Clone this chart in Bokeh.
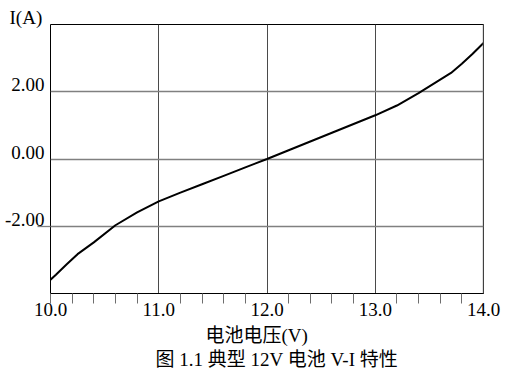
from bokeh.plotting import figure
from bokeh.models import (FixedTicker, PrintfTickFormatter, Span, Title, Range1d,
                          LinearAxis, CustomJSTickFormatter)
from bokeh.embed import file_html
from bokeh.resources import INLINE

# ---- data ----
voltage = [10.0, 10.05, 10.15, 10.25, 10.4, 10.6, 10.8, 11.0, 11.2, 11.4, 11.6,
           11.8, 12.0, 12.2, 12.4, 12.6, 12.8, 13.0, 13.2, 13.4, 13.6, 13.7,
           13.8, 13.9, 14.0]
current = [-3.59, -3.44, -3.13, -2.83, -2.48, -1.97, -1.59, -1.26, -1.0, -0.75,
           -0.5, -0.25, 0.0, 0.26, 0.52, 0.78, 1.04, 1.30, 1.59, 1.96, 2.36,
           2.56, 2.83, 3.13, 3.45]

x_range = (10.0, 14.0)
y_range = (-4.0, 4.0)
x_ticks = [10.0, 11.0, 12.0, 13.0, 14.0]
x_minor_ticks = [10.0, 10.2, 10.4, 10.6, 10.8, 11.2, 11.4, 11.6, 11.8,
                 12.2, 12.4, 12.6, 12.8, 13.2, 13.4, 13.6, 13.8]
x_grid = [11.0, 12.0, 13.0]
y_ticks = [-2.0, 0.0, 2.0]
y_outer_ticks = [-2.0]
x_axis_label = "电池电压(V)"
y_axis_label = "I(A)"
caption = "图 1.1 典型 12V 电池 V-I 特性"

LATIN = "Liberation Serif"
MIXED = "'Liberation Serif', 'Noto Sans CJK SC'"
FS = "19px"

W, H = 512, 372
BL, BR, BT, BB = 50, 29, 24, 79
p = figure(width=W, height=H,
           x_range=Range1d(*x_range), y_range=Range1d(*y_range),
           output_backend="svg", toolbar_location=None, y_axis_location=None,
           min_border_left=BL, min_border_right=BR,
           min_border_top=BT, min_border_bottom=BB)
p.background_fill_color = "white"
p.border_fill_color = "white"
p.outline_line_color = "black"
p.outline_line_width = 1

# x axis
xa = p.xaxis[0]
xa.ticker = FixedTicker(ticks=x_ticks, minor_ticks=x_minor_ticks)
xa.formatter = PrintfTickFormatter(format="%.1f")
xa.major_tick_line_color = None
xa.major_tick_out = 0
xa.major_tick_in = 0
xa.minor_tick_out = 10
xa.minor_tick_in = 0
xa.minor_tick_line_color = "#6e6e6e"
xa.minor_tick_line_width = 1
xa.axis_line_color = "black"
xa.axis_line_width = 1
xa.major_label_text_font = LATIN
xa.major_label_text_font_size = FS
xa.major_label_text_color = "black"
xa.major_label_standoff = -1

# left: short outer tick at -2 (closest to frame), no labels
tick_axis = LinearAxis(ticker=FixedTicker(ticks=y_outer_ticks, minor_ticks=[]),
                       formatter=CustomJSTickFormatter(code="return ''"),
                       axis_line_color=None,
                       major_tick_out=13, major_tick_in=0,
                       major_tick_line_color="#808080", major_tick_line_width=1.3,
                       minor_tick_out=0, minor_tick_in=0,
                       minor_tick_line_color=None,
                       major_label_text_color=None,
                       major_label_standoff=0)
p.add_layout(tick_axis, "left")

# left: tick labels whose baseline sits on the grid line
px_per_unit = (H - BT - BB) / (y_range[1] - y_range[0])
raise_px = 7
d = raise_px / px_per_unit
p.extra_y_ranges = {"ylabels": Range1d(y_range[0] - d, y_range[1] - d)}
label_axis = LinearAxis(y_range_name="ylabels",
                        ticker=FixedTicker(ticks=y_ticks, minor_ticks=[]),
                        formatter=PrintfTickFormatter(format="%.2f"),
                        axis_line_color=None,
                        major_tick_out=0, major_tick_in=0,
                        major_tick_line_color=None,
                        minor_tick_out=0, minor_tick_in=0,
                        minor_tick_line_color=None,
                        major_label_text_font=LATIN,
                        major_label_text_font_size=FS,
                        major_label_text_color="black",
                        major_label_standoff=-7)
p.add_layout(label_axis, "left")

p.xgrid.ticker = FixedTicker(ticks=x_grid)
p.xgrid.grid_line_color = "#4a4a4a"
p.xgrid.grid_line_width = 1
p.ygrid.ticker = FixedTicker(ticks=y_ticks)
p.ygrid.grid_line_color = "#808080"
p.ygrid.grid_line_width = 1.3

p.add_layout(Span(location=x_range[1], dimension="height",
                  line_color="#808080", line_width=1.5))

p.line(voltage, current, line_color="black", line_width=2)

p.add_layout(Title(text=y_axis_label, align="left", offset=-41, standoff=-6,
                   text_font=LATIN, text_font_size=FS,
                   text_font_style="normal", text_color="black"), "above")
p.add_layout(Title(text=x_axis_label, align="left", offset=155, standoff=8,
                   text_font=MIXED, text_font_size=FS,
                   text_font_style="normal", text_color="black"), "below")
p.add_layout(Title(text=caption, align="left", offset=105, standoff=-5,
                   text_font=MIXED, text_font_size=FS,
                   text_font_style="normal", text_color="black"), "below")

open("out.html", "w").write(file_html(p, INLINE))
